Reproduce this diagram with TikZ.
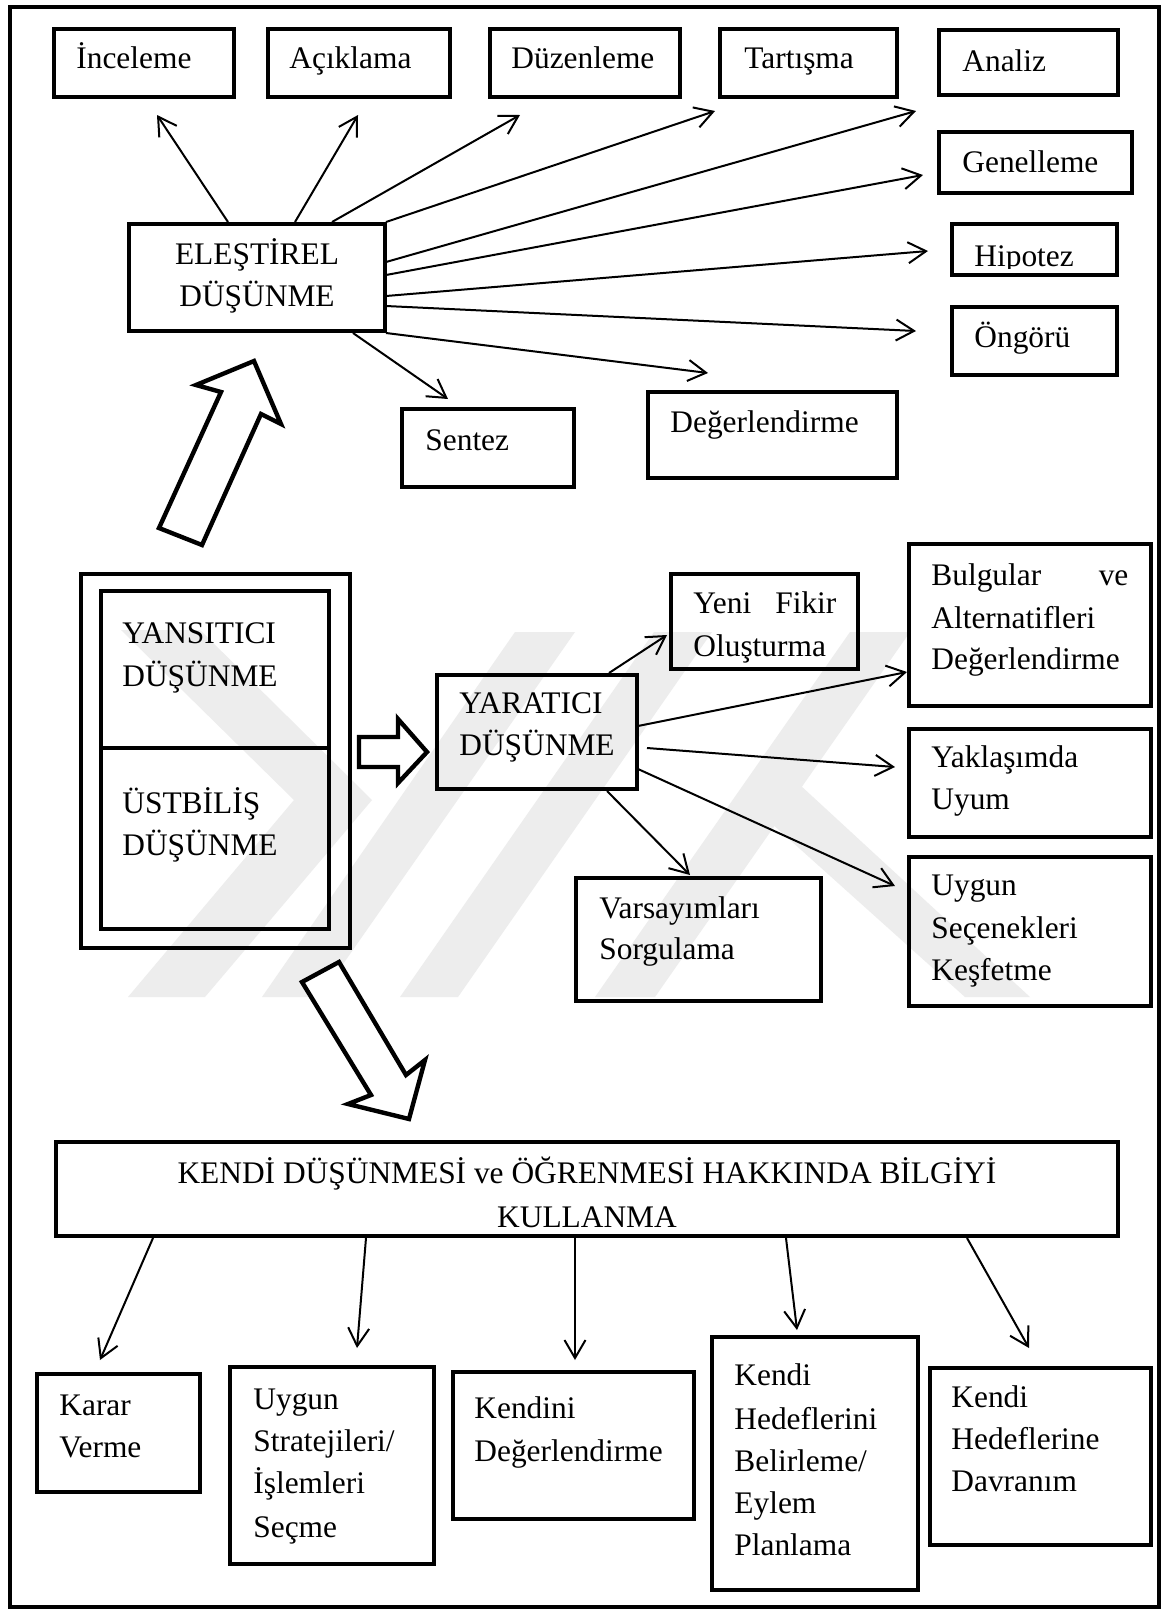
\documentclass[tikz,border=0pt]{standalone}
\usepackage{fontspec}
\setmainfont{Liberation Serif}
\usetikzlibrary{arrows.meta,fit}
\begin{document}
\begin{tikzpicture}[x=0.5pt,y=-0.5pt,
  box/.style={draw,line width=2.1pt,inner sep=0pt},
  txt/.style={anchor=base west,inner sep=0pt,font=\fontsize{15.7pt}{21pt}\selectfont},
  ctxt/.style={txt,anchor=base},
  con/.style={line width=1pt,-{Straight Barb[length=9pt,width=10.5pt,line width=1pt]}},
  blk/.style={draw,line width=2.2pt,line join=miter,fill=white},
  wm/.style={fill=black!7,draw=none}]
\useasboundingbox (0,0) rectangle (1166,1613);
\fill[white] (0,0) rectangle (1166,1613);
% faint background watermark
\fill[wm] (121,630) -- (200,630) -- (372,800) -- (205,997) -- (128,997) -- (294,800) -- cycle;
\fill[wm] (262,997) -- (320,997) -- (575,632) -- (515,632) -- cycle;
\fill[wm] (400,997) -- (458,997) -- (712,632) -- (654,632) -- cycle;
\fill[wm] (595,997) -- (655,997) -- (910,632) -- (850,632) -- cycle;
\fill[wm] (770,822) -- (800,785) -- (1030,997) -- (965,997) -- cycle;
% outer frame
\node[box,line width=2pt,fit={(10,7)(1159,1607)}] (frame) {};

% ---------- critical thinking ----------
\node[box,fit={(129,224)(385,331)}] (ele) {};
\node[ctxt] (eleT1) at (257,264) {ELEŞTİREL};
\node[ctxt] (eleT2) at (257,306) {DÜŞÜNME};

\node[box,fit={(54,29)(234,97)}] (inc) {};
\node[txt] (incT) at (76,68) {İnceleme};
\node[box,fit={(268,29)(450,97)}] (acik) {};
\node[txt] (acikT) at (289,68) {Açıklama};
\node[box,fit={(490,29)(680,97)}] (duz) {};
\node[txt] (duzT) at (511,68) {Düzenleme};
\node[box,fit={(720,29)(897,97)}] (tart) {};
\node[txt] (tartT) at (744,68) {Tartışma};
\node[box,line width=2.4pt,fit={(939,30)(1118,95)}] (anal) {};
\node[txt] (analT) at (962,71) {Analiz};
\node[box,line width=2.4pt,fit={(939,132)(1132,193)}] (gen) {};
\node[txt] (genT) at (962,172) {Genelleme};
\begin{scope}
\clip (952,224) rectangle (1117,268);
\node[txt] (hipT) at (974,266) {Hipotez};
\end{scope}
\node[box,fit={(952,224)(1117,275)}] (hip) {};
\node[box,fit={(952,307)(1117,375)}] (ong) {};
\node[txt] (ongT) at (974,347) {Öngörü};
\node[box,fit={(648,392)(897,478)}] (deg) {};
\node[txt] (degT) at (670,432) {Değerlendirme};
\node[box,fit={(402,409)(574,487)}] (sen) {};
\node[txt] (senT) at (425,450) {Sentez};

\coordinate (e1s) at (228,222); \coordinate (e1e) at (157,115);
\coordinate (e2s) at (295,222); \coordinate (e2e) at (358,115);
\coordinate (e3s) at (332,222); \coordinate (e3e) at (520,115);
\coordinate (e4s) at (386,222); \coordinate (e4e) at (715,111);
\coordinate (e5s) at (386,262); \coordinate (e5e) at (916,111);
\coordinate (e6s) at (386,275); \coordinate (e6e) at (923,175);
\coordinate (e7s) at (386,296); \coordinate (e7e) at (928,251);
\coordinate (e8s) at (386,306); \coordinate (e8e) at (916,331);
\coordinate (e9s) at (386,333); \coordinate (e9e) at (708,373);
\coordinate (e10s) at (353,333); \coordinate (e10e) at (448,399);
\foreach \i in {1,...,10} \draw[con] (e\i s) -- (e\i e);

% ---------- reflective / metacognitive ----------
\node[box,line width=2pt,fit={(81,574)(350,948)}] (outer) {};
\node[box,line width=2.4pt,fit={(101,591)(329,748)}] (yans) {};
\node[box,line width=2.4pt,fit={(101,748)(329,929)}] (ust) {};
\node[txt] (yansT1) at (122,643) {YANSITICI};
\node[txt] (yansT2) at (122,686) {DÜŞÜNME};
\node[txt] (ustT1) at (122,813) {ÜSTBİLİŞ};
\node[txt] (ustT2) at (122,855) {DÜŞÜNME};

% ---------- creative ----------
\node[box,fit={(437,675)(637,789)}] (yar) {};
\node[txt] (yarT1) at (459,713) {YARATICI};
\node[txt] (yarT2) at (459,755) {DÜŞÜNME};

\node[box,fit={(671,574)(858,669)}] (yeni) {};
\node[txt] (yeniT1) at (693,613) {\makebox[71.5pt][s]{Yeni Fikir}};
\node[txt] (yeniT2) at (693,656) {Oluşturma};
\node[box,fit={(909,544)(1151,706)}] (bulg) {};
\node[txt] (bulgT1) at (931,585) {\makebox[98.5pt][s]{Bulgular ve}};
\node[txt] (bulgT2) at (931,628) {Alternatifleri};
\node[txt] (bulgT3) at (931,669) {Değerlendirme};
\node[box,fit={(909,729)(1151,837)}] (yakl) {};
\node[txt] (yaklT1) at (931,767) {Yaklaşımda};
\node[txt] (yaklT2) at (931,809) {Uyum};
\node[box,fit={(909,857)(1151,1006)}] (uyg) {};
\node[txt] (uygT1) at (931,895) {Uygun};
\node[txt] (uygT2) at (931,938) {Seçenekleri};
\node[txt] (uygT3) at (931,980) {Keşfetme};
\node[box,fit={(576,878)(821,1001)}] (vars) {};
\node[txt] (varsT1) at (599,918) {Varsayımları};
\node[txt] (varsT2) at (599,959) {Sorgulama};

\coordinate (y1s) at (609,673); \coordinate (y1e) at (667,635);
\coordinate (y2s) at (638,726); \coordinate (y2e) at (907,672);
\coordinate (y3s) at (647,748); \coordinate (y3e) at (895,767);
\coordinate (y4s) at (638,769); \coordinate (y4e) at (895,886);
\coordinate (y5s) at (607,791); \coordinate (y5e) at (690,875);
\foreach \i in {1,...,5} \draw[con] (y\i s) -- (y\i e);

% ---------- block arrows ----------
\draw[blk] (159,528) -- (221,392) -- (196,385) -- (254,361) -- (281,424) -- (261,414) -- (202,545) -- cycle;
\draw[blk] (359,737) -- (398,737) -- (398,719) -- (427,752) -- (398,783) -- (398,767) -- (359,767) -- cycle;
\draw[blk] (302,982) -- (371,1095) -- (348,1104) -- (409,1119) -- (425,1060) -- (406,1075) -- (339,962) -- cycle;

% ---------- using knowledge ----------
\node[box,fit={(56,1142)(1118,1236)}] (kendi) {};
\node[ctxt] (kendiT1) at (587,1183) {KENDİ DÜŞÜNMESİ ve ÖĞRENMESİ HAKKINDA BİLGİYİ};
\node[ctxt] (kendiT2) at (587,1227) {KULLANMA};

\node[box,line width=2.4pt,fit={(37,1374)(200,1492)}] (karar) {};
\node[txt] (kararT1) at (59,1415) {Karar};
\node[txt] (kararT2) at (59,1457) {Verme};
\node[box,line width=2.4pt,fit={(230,1367)(434,1564)}] (strat) {};
\node[txt] (stratT1) at (253,1409) {Uygun};
\node[txt] (stratT2) at (253,1451) {Stratejileri/};
\node[txt] (stratT3) at (253,1493) {İşlemleri};
\node[txt] (stratT4) at (253,1537) {Seçme};
\node[box,line width=2.4pt,fit={(453,1372)(694,1519)}] (kendini) {};
\node[txt] (kendiniT1) at (474,1418) {Kendini};
\node[txt] (kendiniT2) at (474,1461) {Değerlendirme};
\node[box,line width=2.4pt,fit={(712,1337)(918,1590)}] (hedef) {};
\node[txt] (hedefT1) at (734,1385) {Kendi};
\node[txt] (hedefT2) at (734,1429) {Hedeflerini};
\node[txt] (hedefT3) at (734,1471) {Belirleme/};
\node[txt] (hedefT4) at (734,1513) {Eylem};
\node[txt] (hedefT5) at (734,1555) {Planlama};
\node[box,line width=2.4pt,fit={(930,1368)(1151,1545)}] (davr) {};
\node[txt] (davrT1) at (951,1407) {Kendi};
\node[txt] (davrT2) at (951,1449) {Hedeflerine};
\node[txt] (davrT3) at (951,1491) {Davranım};

\coordinate (k1s) at (153,1238); \coordinate (k1e) at (100,1360);
\coordinate (k2s) at (366,1238); \coordinate (k2e) at (357,1348);
\coordinate (k3s) at (575,1238); \coordinate (k3e) at (575,1360);
\coordinate (k4s) at (786,1238); \coordinate (k4e) at (797,1330);
\coordinate (k5s) at (967,1238); \coordinate (k5e) at (1029,1348);
\foreach \i in {1,...,5} \draw[con] (k\i s) -- (k\i e);
\end{tikzpicture}
\end{document}
